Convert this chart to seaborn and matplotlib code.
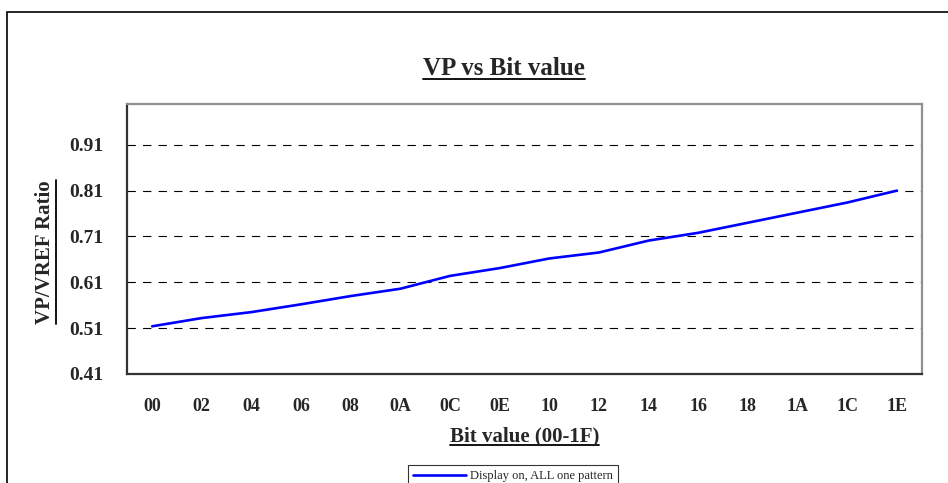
import numpy as np
import pandas as pd
import seaborn as sns
import matplotlib.pyplot as plt
from matplotlib.lines import Line2D
from matplotlib.patches import Rectangle

sns.set_style("white")
plt.rcParams['font.family'] = ['Liberation Serif', 'DejaVu Serif']

# data
bit_labels = ['00', '02', '04', '06', '08', '0A', '0C', '0E',
              '10', '12', '14', '16', '18', '1A', '1C', '1E']
vp_ratio = [0.514, 0.532, 0.545, 0.562, 0.580, 0.596, 0.624, 0.641,
            0.662, 0.675, 0.701, 0.718, 0.740, 0.762, 0.784, 0.810]
y_ticks = [0.41, 0.51, 0.61, 0.71, 0.81, 0.91]
series_name = 'Display on, ALL one pattern'

df = pd.DataFrame({'pos': np.arange(len(bit_labels)), 'ratio': vp_ratio})

fig = plt.figure(figsize=(9.48, 4.83), dpi=100)
ax = fig.add_axes([0.1343, 0.2257, 0.8380, 0.5600])

# outer chart frame (runs off the right / bottom of the image)
fig.patches.append(Rectangle((7 / 948, -0.2), 1.5, 0.2 + 1 - 12 / 483,
                             transform=fig.transFigure, fill=False,
                             edgecolor='black', linewidth=1.2))

sns.lineplot(data=df, x='pos', y='ratio', color='#0000ff', linewidth=1.9,
             ax=ax, label=series_name, legend=False)

ax.set_xlim(-0.5, len(bit_labels) - 0.5)
ax.set_ylim(0.41, 1.0)

# dashed grid
for v in y_ticks[1:]:
    ax.axhline(v, color='black', linewidth=0.8, dashes=(7.5, 6.5), zorder=0)

ax.set_yticks(y_ticks)
ax.set_yticklabels(['%.2f' % v for v in y_ticks], fontsize=14, fontweight='bold')
ax.tick_params(axis='y', length=0, pad=17)

# ticks between categories, labels at the centres
ax.set_xticks(np.arange(-0.5, len(bit_labels)))
ax.set_xticklabels([])
ax.tick_params(axis='x', which='major', direction='in', length=4.5,
               width=1, color='#555555')
ax.set_xticks(df['pos'], minor=True)
ax.set_xticklabels(bit_labels, minor=True, fontsize=13, fontweight='bold')
ax.tick_params(axis='x', which='minor', length=0, pad=17)
ax.set_xlabel('')
ax.set_ylabel('')

for s in ['left', 'bottom']:
    ax.spines[s].set_color('#333333')
    ax.spines[s].set_linewidth(1.6)
for s in ['top', 'right']:
    ax.spines[s].set_color('#909090')
    ax.spines[s].set_linewidth(1.6)

title = fig.text(504 / 948, 1 - 69 / 483, 'VP vs Bit value', fontsize=18,
                 fontweight='bold', ha='center', va='center')
xlab = fig.text(524.5 / 948, 1 - 436 / 483, 'Bit value (00-1F)', fontsize=15,
                fontweight='bold', ha='center', va='center')
ylab = fig.text(45 / 948, 1 - 252 / 483, 'VP/VREF Ratio', fontsize=15,
                fontweight='bold', ha='center', va='center', rotation=90)

leg = fig.legend(loc='upper center', bbox_to_anchor=(513 / 948, 1 - 459 / 483),
                 fontsize=9, frameon=True, fancybox=False, handlelength=4.2,
                 borderpad=0.4, handletextpad=0.3)
leg.get_frame().set_edgecolor('black')
leg.get_frame().set_linewidth(0.8)

# underline the titles
fig.canvas.draw()
r = fig.canvas.get_renderer()
inv = fig.transFigure.inverted()
for t in [title, xlab]:
    bb = t.get_window_extent(r)
    (x0, y0), (x1, _) = inv.transform([(bb.x0, bb.y0 + 1), (bb.x1, bb.y0 + 1)])
    fig.lines.append(Line2D([x0, x1], [y0, y0], transform=fig.transFigure,
                            color='black', linewidth=1.3))
bb = ylab.get_window_extent(r)
(x0, y0), (_, y1) = inv.transform([(bb.x1 + 1, bb.y0), (bb.x1 + 1, bb.y1)])
fig.lines.append(Line2D([x0, x0], [y0, y1], transform=fig.transFigure,
                        color='black', linewidth=1.3))

fig.savefig('out.png', dpi=100)
